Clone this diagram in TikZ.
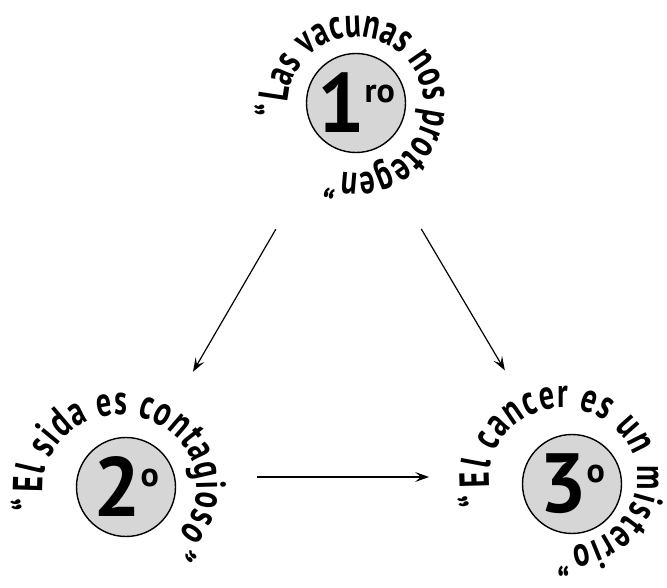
\documentclass[tikz,border=0pt]{standalone}
\usepackage{fontspec}
\setmainfont{PT Sans}
\newfontfamily\ringfont{PT Sans}[FakeStretch=0.72]
\usetikzlibrary{decorations.text, arrows.meta}

\begin{document}
\begin{tikzpicture}[x=1pt, y=1pt,
  seal/.style={circle, draw, line width=1.4pt, fill=black!16, minimum size=99pt, inner sep=0pt, font=\bfseries\fontsize{84}{84}\selectfont},
  arr/.style={line width=1.2pt, -{Stealth[length=14pt, width=10pt, inset=6pt]}},
  ring/.style={decorate, decoration={text along path, text align=fit to path, text={#1}}}]
  \useasboundingbox (0,0) rectangle (667,587);

  % the three circles
  \node[seal] (c1) at (356,484) {1\raisebox{30pt}{\fontsize{34}{34}\selectfont ro}};
  \node[seal] (c2) at (126,100) {2\raisebox{30pt}{\fontsize{34}{34}\selectfont o}};
  \node[seal] (c3) at (572,103) {3\raisebox{30pt}{\fontsize{34}{34}\selectfont o}};

  % texts round the circles
  \path[ring={|\ringfont\bfseries\fontsize{42}{42}\selectfont|“Las vacunas nos protegen”}]
    (356,482) ++(188:68) arc[start angle=188, end angle=-110, radius=68];
  \path[ring={|\ringfont\bfseries\fontsize{42}{42}\selectfont|“El sida es contagioso”}]
    (120,100) ++(195:77 and 72) arc[start angle=195, end angle=-50, x radius=77, y radius=72];
  \path[ring={|\ringfont\bfseries\fontsize{42}{42}\selectfont|“El cancer es un misterio”}]
    (563,109.5) ++(199:74 and 69.5) arc[start angle=199, end angle=-94, x radius=74, y radius=69.5];

  % arrows
  \draw[arr, shorten <=143.7pt, shorten >=133.3pt] ([xshift=-8pt, yshift=-2pt]c1.center) -- (c2.center);
  \draw[arr, shorten <=144pt, shorten >=132pt] ([xshift=-8pt, yshift=-2pt]c1.center) -- (c3.center);
  \draw[arr, shorten <=131pt, shorten >=143pt] ([yshift=10pt]c2.center) -- ([yshift=7pt]c3.center);
\end{tikzpicture}
\end{document}
